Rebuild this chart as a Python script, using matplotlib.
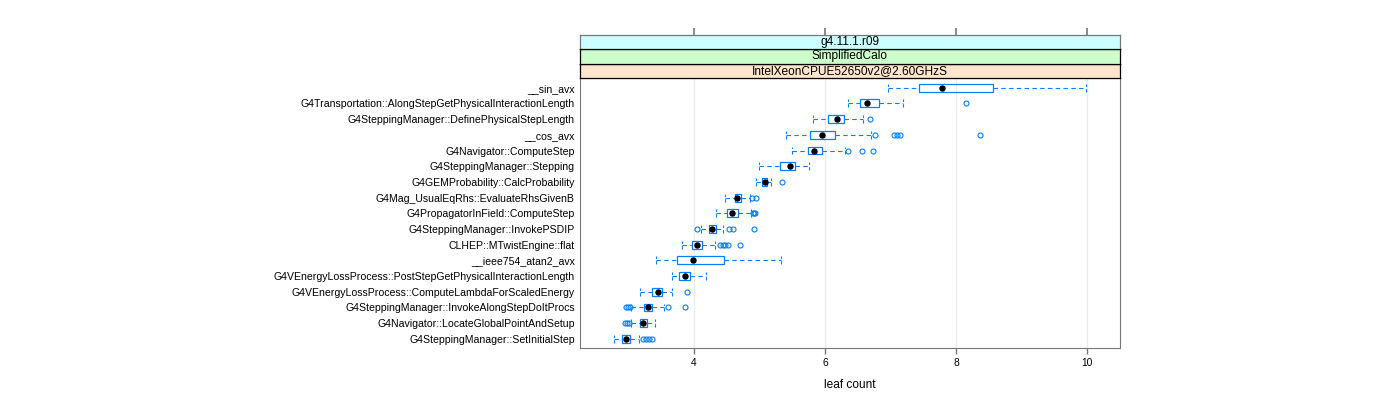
import numpy as np
import matplotlib
matplotlib.use('Agg')
from matplotlib import pyplot as plt
from matplotlib.patches import Rectangle
from matplotlib import font_manager

# pick a narrow helvetica-like font if available
names = set(f.name for f in font_manager.fontManager.ttflist)
fam = 'Liberation Sans Narrow' if 'Liberation Sans Narrow' in names else 'Liberation Sans'
plt.rcParams['font.family'] = [fam, 'DejaVu Sans']

# rows from bottom to top
functions = [
    'G4SteppingManager::SetInitialStep',
    'G4Navigator::LocateGlobalPointAndSetup',
    'G4SteppingManager::InvokeAlongStepDoItProcs',
    'G4VEnergyLossProcess::ComputeLambdaForScaledEnergy',
    'G4VEnergyLossProcess::PostStepGetPhysicalInteractionLength',
    '__ieee754_atan2_avx',
    'CLHEP::MTwistEngine::flat',
    'G4SteppingManager::InvokePSDIP',
    'G4PropagatorInField::ComputeStep',
    'G4Mag_UsualEqRhs::EvaluateRhsGivenB',
    'G4GEMProbability::CalcProbability',
    'G4SteppingManager::Stepping',
    'G4Navigator::ComputeStep',
    '__cos_avx',
    'G4SteppingManager::DefinePhysicalStepLength',
    'G4Transportation::AlongStepGetPhysicalInteractionLength',
    '__sin_avx',
]
whisker_lo = [2.78, 3.04, 3.04, 3.17, 3.67, 3.42, 3.82, 4.11, 4.33, 4.47, 4.95, 5.00, 5.49, 5.40, 5.82, 6.35, 6.97]
q1 = [2.91, 3.18, 3.24, 3.36, 3.78, 3.74, 3.97, 4.23, 4.50, 4.62, 5.04, 5.31, 5.74, 5.77, 6.04, 6.53, 7.44]
median = [2.97, 3.22, 3.30, 3.45, 3.86, 3.99, 4.04, 4.28, 4.58, 4.66, 5.08, 5.46, 5.83, 5.96, 6.18, 6.65, 7.79]
q3 = [3.03, 3.28, 3.36, 3.51, 3.94, 4.46, 4.12, 4.33, 4.67, 4.72, 5.12, 5.54, 5.96, 6.16, 6.29, 6.82, 8.57]
whisker_hi = [3.16, 3.40, 3.54, 3.67, 4.18, 5.33, 4.32, 4.45, 4.87, 4.85, 5.17, 5.75, 6.30, 6.71, 6.58, 7.19, 9.99]
outliers = [
    [3.23, 3.27, 3.32, 3.36],
    [2.95, 2.98, 3.01],
    [2.96, 2.99, 3.02, 3.61, 3.86],
    [3.89],
    [],
    [],
    [4.40, 4.44, 4.47, 4.52, 4.71],
    [4.05, 4.54, 4.59, 4.91],
    [4.90, 4.92, 4.93],
    [4.89, 4.95],
    [5.34],
    [],
    [6.35, 6.56, 6.74],
    [6.77, 7.05, 7.10, 7.15, 8.36],
    [6.69],
    [8.16],
    [],
]
strips = ['g4.11.1.r09', 'SimplifiedCalo', 'IntelXeonCPUE52650v2@2.60GHzS']
strip_colors = ['#ccffff', '#ccffcc', '#ffe5cc']

blue = '#0080ff'
fig = plt.figure(figsize=(14, 4), dpi=100)
W, H = 1400, 400
ax = fig.add_axes([580.3 / W, 1 - 348.3 / H, (1119.7 - 580.3) / W, (348.3 - 78.3) / H])

for xg in [4, 6, 8, 10]:
    ax.axvline(xg, color='#ebebeb', lw=1, zorder=0)

h = 0.25
for i in range(len(functions)):
    y = i + 1
    ax.add_patch(Rectangle((q1[i], y - h), q3[i] - q1[i], 2 * h, fill=False,
                           edgecolor=blue, lw=0.9, zorder=2))
    ax.plot([whisker_lo[i], q1[i]], [y, y], color=blue, lw=0.8, ls=(0, (4, 3)))
    ax.plot([q3[i], whisker_hi[i]], [y, y], color=blue, lw=0.8, ls=(0, (4, 3)))
    for xc in [whisker_lo[i], whisker_hi[i]]:
        ax.plot([xc, xc], [y - h, y + h], color=blue, lw=0.8, ls=(0, (3, 2)))
    ax.plot(median[i], y, 'o', color='black', ms=3.6, zorder=3)
    if outliers[i]:
        ax.plot(outliers[i], [y] * len(outliers[i]), 'o', mfc='none', mec=blue,
                ms=3.6, mew=0.8, ls='none')

ax.set_xlim(2.266, 10.5)
ax.set_ylim(0.4, 17.6)
ax.set_yticks(range(1, len(functions) + 1))
ax.set_yticklabels(functions, fontsize=7.6)
ax.set_xticks([4, 6, 8, 10])
ax.tick_params(axis='x', labelsize=7.4, length=4, color='#777777', width=1, pad=3)
ax.tick_params(axis='y', length=0, pad=4)
for s in ax.spines.values():
    s.set_color('#777777')
ax.set_xlabel('leaf count', fontsize=8.6, labelpad=8)

# strips
edges = [78.3, 63.7, 49.3, 34.7]
for k, (txt, col) in enumerate(zip(strips[::-1], strip_colors[::-1])):
    y0 = 1 - edges[k] / H
    hh = (edges[k] - edges[k + 1]) / H
    sax = fig.add_axes([580.3 / W, y0, (1119.7 - 580.3) / W, hh])
    sax.set_facecolor(col)
    sax.set_xticks([])
    sax.set_yticks([])
    for s in sax.spines.values():
        s.set_color('black')
        s.set_linewidth(0.9)
    sax.text(0.5, 0.5, txt, ha='center', va='center', fontsize=8.6, transform=sax.transAxes)
    if k == 2:
        sax.set_xlim(ax.get_xlim())
        sax.set_xticks([4, 6, 8, 10])
        sax.tick_params(axis='x', top=True, bottom=False, labeltop=False, labelbottom=False,
                        length=5, color='#777777', width=1.2)
        sax.spines['top'].set_color('#777777')
        sax.spines['left'].set_color('#777777')
        sax.spines['right'].set_color('#777777')

fig.savefig('out.png', dpi=100)
